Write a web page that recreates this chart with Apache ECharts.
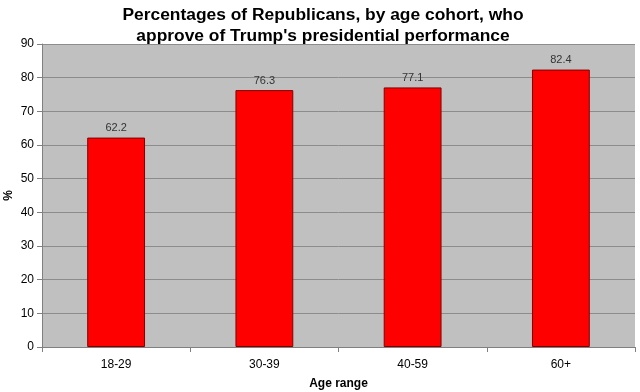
<!DOCTYPE html>
<html><head><meta charset="utf-8">
<script src="https://cdn.jsdelivr.net/npm/echarts@6/dist/echarts.min.js"></script>
<style>html,body{margin:0;padding:0;background:#fff}#c{width:640px;height:392px}</style>
</head><body><div id="c"></div>
<script>
var categories = ['18-29', '30-39', '40-59', '60+'];
var values = [62.2, 76.3, 77.1, 82.4];
var chart = echarts.init(document.getElementById('c'), null, {renderer: 'canvas'});
chart.setOption({
  animation: false,
  backgroundColor: '#ffffff',
  title: {
    text: "Percentages of Republicans, by age cohort, who\napprove of Trump's presidential performance",
    left: 318, top: 0, textAlign: 'center',
    textStyle: {fontFamily: 'Liberation Sans', fontWeight: 'bold', fontSize: 17.4, lineHeight: 21, color: '#000'}
  },
  grid: {left: 42, right: 5, top: 44, bottom: 45, show: true, backgroundColor: '#c0c0c0', borderWidth: 0,
         containLabel: false, outerBoundsMode: 'none'},
  xAxis: {
    type: 'category', data: categories,
    name: 'Age range', nameLocation: 'middle', nameGap: 31,
    nameTextStyle: {fontFamily: 'Liberation Sans', fontWeight: 'bold', fontSize: 12, color: '#000'},
    axisLine: {lineStyle: {color: '#808080', width: 1}},
    axisTick: {show: true, length: 5, lineStyle: {color: '#808080'}},
    axisLabel: {fontFamily: 'Liberation Sans', fontSize: 12, color: '#000', margin: 12}
  },
  yAxis: {
    type: 'value', min: 0, max: 90, interval: 10,
    name: '%', nameLocation: 'middle', nameGap: 27, nameRotate: 90, nameMoveOverlap: false,
    nameTextStyle: {fontFamily: 'Liberation Sans', fontWeight: 'bold', fontSize: 12, color: '#000'},
    axisLine: {show: true, lineStyle: {color: '#808080', width: 1}},
    axisTick: {show: true, length: 5, lineStyle: {color: '#808080'}},
    axisLabel: {fontFamily: 'Liberation Sans', fontSize: 12, color: '#000', margin: 8},
    splitLine: {show: true, lineStyle: {color: '#8c8c8c', width: 1}}
  },
  series: [{
    type: 'bar', data: values, barWidth: '39%',
    itemStyle: {color: '#ff0000', borderColor: '#800000', borderWidth: 1},
    label: {show: true, position: 'top', distance: 4, fontFamily: 'Liberation Sans', fontSize: 11, color: '#333'}
  }]
});
</script></body></html>
